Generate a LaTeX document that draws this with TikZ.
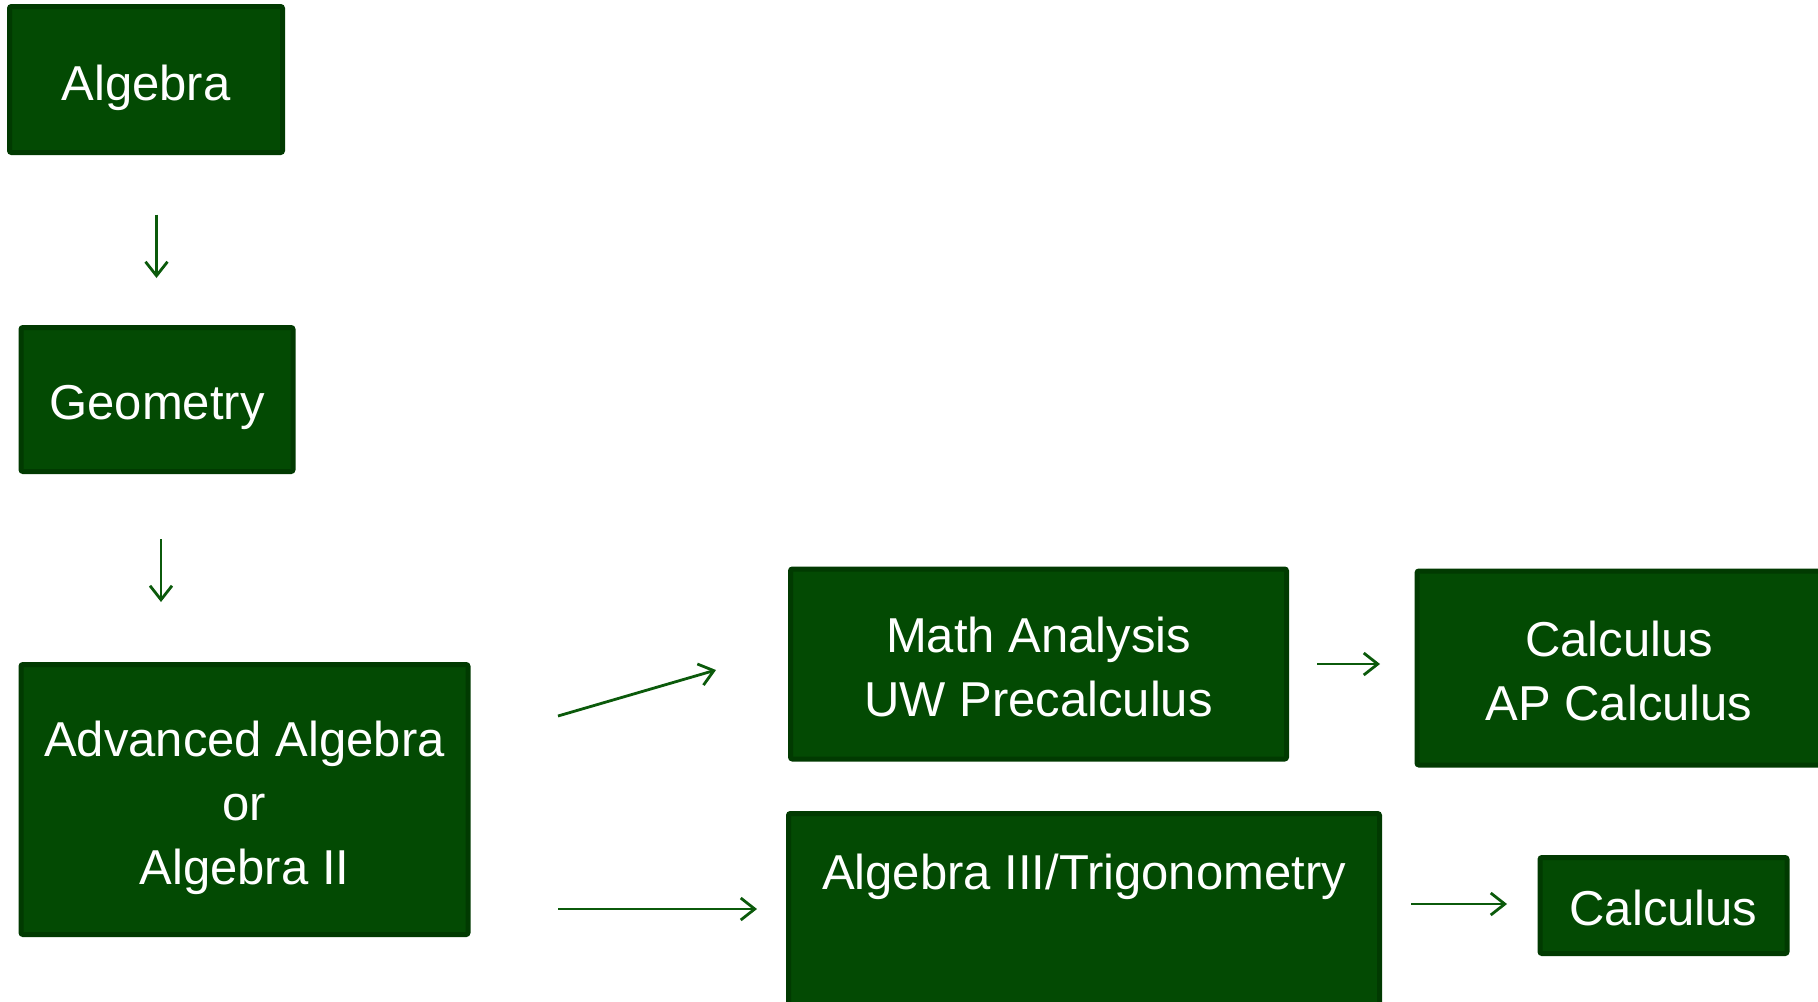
\documentclass[tikz,border=0pt]{standalone}
\usepackage{fontspec}
\setmainfont{Liberation Sans}
\usetikzlibrary{arrows.meta}
\definecolor{boxfill}{HTML}{034A03}
\definecolor{boxline}{HTML}{013A01}
\definecolor{arrowc}{HTML}{0B5A0B}
\tikzset{
  box/.style={draw=boxline, fill=boxfill, line width=2.5pt, rounded corners=1pt, inner sep=0pt},
  lbl/.style={text=white, align=center, inner sep=0pt, font=\fontsize{24.5}{32}\selectfont},
  conn/.style={draw=arrowc, line width=1.4pt,
    -{Straight Barb[length=7pt,width=11pt,line width=1.4pt]}}
}
\begin{document}
\begin{tikzpicture}[x=0.5pt,y=-0.5pt]
\useasboundingbox (0,0) rectangle (1818,1001);
\clip (0,0) rectangle (1818,1001);
% boxes
\node[box, minimum width=136.5pt, minimum height=73pt] (alg) at (146,79.5) {};
\node[box, minimum width=136pt, minimum height=72pt] (geo) at (157,399.5) {};
\node[box, minimum width=223.5pt, minimum height=135pt] (adv) at (244.5,799.5) {};
\node[box, minimum width=248pt, minimum height=95pt] (ma) at (1038.5,664) {};
\node[box, minimum width=202pt, minimum height=97pt] (calc) at (1619,668) {};
\node[box, minimum width=123.5pt, minimum height=48pt] (calc2) at (1663.5,905.5) {};
\node[box, minimum width=295.5pt, minimum height=138pt, anchor=north] (trig) at (1084,811) {};
% labels
\node[lbl] (algt) at (146,87.5) {Algebra};
\node[lbl] (geot) at (157,407.5) {Geometry};
\node[lbl] (advt) at (244.5,807.5) {Advanced Algebra\\or\\Algebra II};
\node[lbl] (mat) at (1038.5,666.5) {Math Analysis\\UW Precalculus};
\node[lbl] (calct) at (1619,670.5) {Calculus\\AP Calculus};
\node[lbl] (calc2t) at (1663.5,908) {Calculus};
\node[lbl] (trigt) at (1084,877) {Algebra III/Trigonometry};
% arrow end points
\coordinate (a1s) at (156.5,214.5); \coordinate (a1e) at (156.5,278);
\coordinate (a2s) at (161,539);     \coordinate (a2e) at (161,602);
\coordinate (a3s) at (558,716);     \coordinate (a3e) at (716,670);
\coordinate (a4s) at (558,909);     \coordinate (a4e) at (757,909);
\coordinate (a5s) at (1317,664);    \coordinate (a5e) at (1380,664);
\coordinate (a6s) at (1411,904);    \coordinate (a6e) at (1507,904);
\draw[conn] (a1s) -- (a1e);
\draw[conn] (a2s) -- (a2e);
\draw[conn] (a3s) -- (a3e);
\draw[conn] (a4s) -- (a4e);
\draw[conn] (a5s) -- (a5e);
\draw[conn] (a6s) -- (a6e);
\end{tikzpicture}
\end{document}
